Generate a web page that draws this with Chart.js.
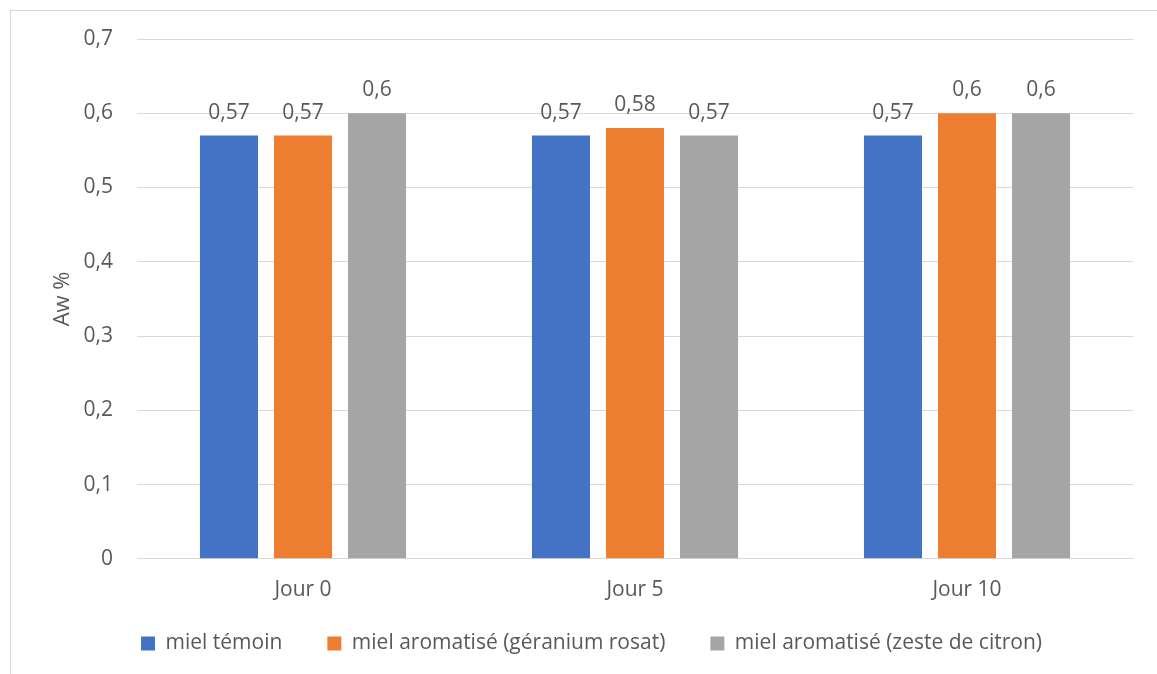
<!DOCTYPE html>
<html>
<head>
<meta charset="utf-8">
<script src="https://cdn.jsdelivr.net/npm/chart.js@4/dist/chart.umd.min.js"></script>
<style>
  html, body { margin: 0; padding: 0; background: #fff; }
  #wrap { position: relative; width: 1157px; height: 674px; }
</style>
</head>
<body>
<div id="wrap"><canvas id="awChart" width="1157" height="674"></canvas></div>
<script>
// --- data ---
const CATEGORIES = ['Jour 0', 'Jour 5', 'Jour 10'];
const SERIES_NAMES = ['miel témoin', 'miel aromatisé (géranium rosat)', 'miel aromatisé (zeste de citron)'];
const TEMOIN = [0.57, 0.57, 0.57];
const GERANIUM = [0.57, 0.58, 0.6];
const CITRON = [0.6, 0.57, 0.6];
const Y_TICKS = [0, 0.1, 0.2, 0.3, 0.4, 0.5, 0.6, 0.7];

const COLORS = ['#4472C4', '#ED7D31', '#A5A5A5'];
const TEXT = '#595959';
const FONT = "'Open Sans', 'Liberation Sans', sans-serif";
const FS = 21;

const fmt = v => v === 0 ? '0' : String(v).replace('.', ',');

// value labels above bars
const barLabels = {
  id: 'barLabels',
  afterDatasetsDraw(chart) {
    const ctx = chart.ctx;
    ctx.save();
    ctx.fillStyle = TEXT;
    ctx.font = FS + 'px ' + FONT;
    ctx.textAlign = 'center';
    ctx.textBaseline = 'alphabetic';
    chart.data.datasets.forEach((ds, i) => {
      chart.getDatasetMeta(i).data.forEach((bar, j) => {
        ctx.fillText(fmt(ds.data[j]), bar.x, bar.y - 17);
      });
    });
    ctx.restore();
  }
};

// outer chart frame
const frame = {
  id: 'frame',
  beforeDraw(chart) {
    const ctx = chart.ctx;
    ctx.save();
    ctx.strokeStyle = '#D9D9D9';
    ctx.lineWidth = 1;
    ctx.strokeRect(10.5, 10.5, 1400, 900);
    ctx.restore();
  }
};

// wide gaps between legend items, but a shorter legend box
const LEGEND_H = 50;
const LEGEND_SHIFT = -26;
const legendFit = {
  id: 'legendFit',
  afterInit(chart) {
    const leg = chart.legend;
    if (!leg) return;
    const origFit = leg.fit.bind(leg);
    leg.fit = function () { origFit(); this.height = LEGEND_H; };
    const origDraw = leg._draw.bind(leg);
    leg._draw = function () {
      this.ctx.save();
      this.ctx.translate(0, LEGEND_SHIFT);
      origDraw();
      this.ctx.restore();
    };
  }
};

new Chart(document.getElementById('awChart'), {
  type: 'bar',
  data: {
    labels: CATEGORIES,
    datasets: [
      { label: SERIES_NAMES[0], data: TEMOIN, backgroundColor: COLORS[0] },
      { label: SERIES_NAMES[1], data: GERANIUM, backgroundColor: COLORS[1] },
      { label: SERIES_NAMES[2], data: CITRON, backgroundColor: COLORS[2] }
    ]
  },
  options: {
    responsive: false,
    animation: false,
    devicePixelRatio: 1,
    datasets: { bar: { categoryPercentage: 0.669, barPercentage: 0.784 } },
    layout: { padding: { left: 50, right: 24, top: 39, bottom: 10 } },
    plugins: {
      tooltip: { enabled: false },
      legend: {
        position: 'bottom',
        labels: {
          color: TEXT,
          font: { family: FONT, size: FS },
          boxWidth: 14,
          boxHeight: 14,
          padding: 45
        }
      }
    },
    scales: {
      x: {
        grid: { display: false },
        border: { color: '#D9D9D9' },
        ticks: { color: TEXT, font: { family: FONT, size: FS }, padding: 11 }
      },
      y: {
        min: 0,
        max: 0.7,
        afterBuildTicks(axis) { axis.ticks = Y_TICKS.map(v => ({ value: v })); },
        afterFit(axis) { axis.width = 87; },
        grid: { color: '#D9D9D9', drawTicks: false },
        border: { display: false },
        ticks: { color: TEXT, font: { family: FONT, size: FS }, padding: 24, callback: v => fmt(v) },
        title: { display: true, text: 'Aw %', color: TEXT, font: { family: FONT, size: 22 }, padding: 0 }
      }
    }
  },
  plugins: [barLabels, frame, legendFit]
});
</script>
</body>
</html>
